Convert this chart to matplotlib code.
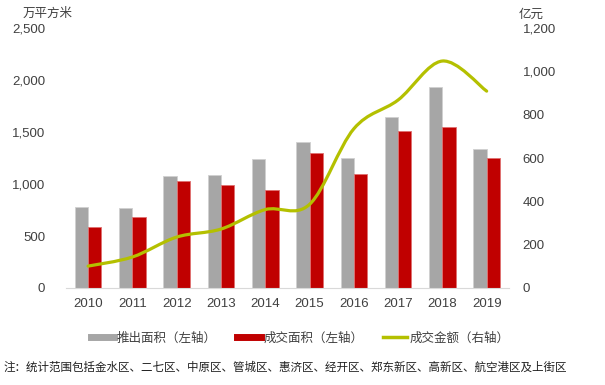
import numpy as np
import matplotlib.pyplot as plt
from matplotlib.path import Path
from matplotlib.patches import PathPatch
from matplotlib.lines import Line2D
from matplotlib.ticker import FuncFormatter

plt.rcParams['font.family'] = ['Liberation Sans', 'Noto Sans CJK SC', 'DejaVu Sans']
cjk = ['Noto Sans CJK SC', 'DejaVu Sans']

years = ['2010', '2011', '2012', '2013', '2014', '2015', '2016', '2017', '2018', '2019']
supply = [780, 770, 1077, 1087, 1240, 1404, 1250, 1644, 1933, 1337]    # 推出面积 万平方米
sold = [590, 686, 1029, 990, 942, 1298, 1096, 1510, 1548, 1250]        # 成交面积 万平方米
amount = [101, 143, 235, 272, 362, 386, 735, 868, 1048, 909]           # 成交金额 亿元

grey = '#a6a6a6'
red = '#c00000'
green = '#b4c000'
txt = '#404040'

fig = plt.figure(figsize=(6.05, 3.85), dpi=100)
ax = fig.add_axes([0.109, 0.252, 0.732, 0.675])
ax2 = ax.twinx()

x = np.arange(len(years))
w = 0.3
ax.bar(x - w / 2, supply, w, color=grey, edgecolor='#d0d0d0', linewidth=0.6)
ax.bar(x + w / 2, sold, w, color=red, edgecolor='#e07070', linewidth=0.6)

# smooth line drawn as cubic bezier through the data points (Catmull-Rom)
pts = np.column_stack([x, amount]).astype(float)
verts = [tuple(pts[0])]
codes = [Path.MOVETO]
k = 6.0
for i in range(len(pts) - 1):
    p0 = pts[i - 1] if i > 0 else pts[i]
    p1, p2 = pts[i], pts[i + 1]
    p3 = pts[i + 2] if i + 2 < len(pts) else pts[i + 1]
    c1 = p1 + (p2 - p0) / k
    c2 = p2 - (p3 - p1) / k
    verts += [tuple(c1), tuple(c2), tuple(p2)]
    codes += [Path.CURVE4] * 3
ax2.add_patch(PathPatch(Path(verts, codes), facecolor='none', edgecolor=green,
                        linewidth=2.3, capstyle='round'))

ax.set_xlim(-0.5, len(years) - 0.5)
ax.set_ylim(0, 2500)
ax.set_yticks(range(0, 2501, 500))
ax2.set_ylim(0, 1200)
ax2.set_yticks(range(0, 1201, 200))
fmt = FuncFormatter(lambda v, p: f'{int(v):,}')
ax.yaxis.set_major_formatter(fmt)
ax2.yaxis.set_major_formatter(fmt)
ax.set_xticks(x)
ax.set_xticklabels(years)

for a in (ax, ax2):
    for s in a.spines.values():
        s.set_visible(False)
    a.tick_params(length=0, labelsize=9.5, colors=txt)
ax.spines['bottom'].set_visible(True)
ax.spines['bottom'].set_color('#d9d9d9')
ax.tick_params(axis='y', pad=15)
ax2.tick_params(axis='y', pad=10)
ax.tick_params(axis='x', pad=7)

fig.text(0.038, 0.955, '万平方米', fontsize=9, color=txt, family=cjk)
fig.text(0.858, 0.955, '亿元', fontsize=9, color=txt, family=cjk)

handles = [Line2D([], [], color=grey, linewidth=5),
           Line2D([], [], color=red, linewidth=5),
           Line2D([], [], color=green, linewidth=2.5)]
labels = ['推出面积（左轴）', '成交面积（左轴）', '成交金额（右轴）']
fig.legend(handles, labels, loc='center', bbox_to_anchor=(0.496, 0.122), ncol=3,
           frameon=False, handlelength=1.9, handletextpad=0.2,
           columnspacing=1.6, labelcolor=txt, prop={'family': cjk, 'size': 9})

fig.text(0.005, 0.038, '注：统计范围包括金水区、二七区、中原区、管城区、惠济区、经开区、郑东新区、高新区、航空港区及上街区',
         fontsize=8.3, color='#202020', family=cjk)

fig.savefig('out.png', dpi=100)
